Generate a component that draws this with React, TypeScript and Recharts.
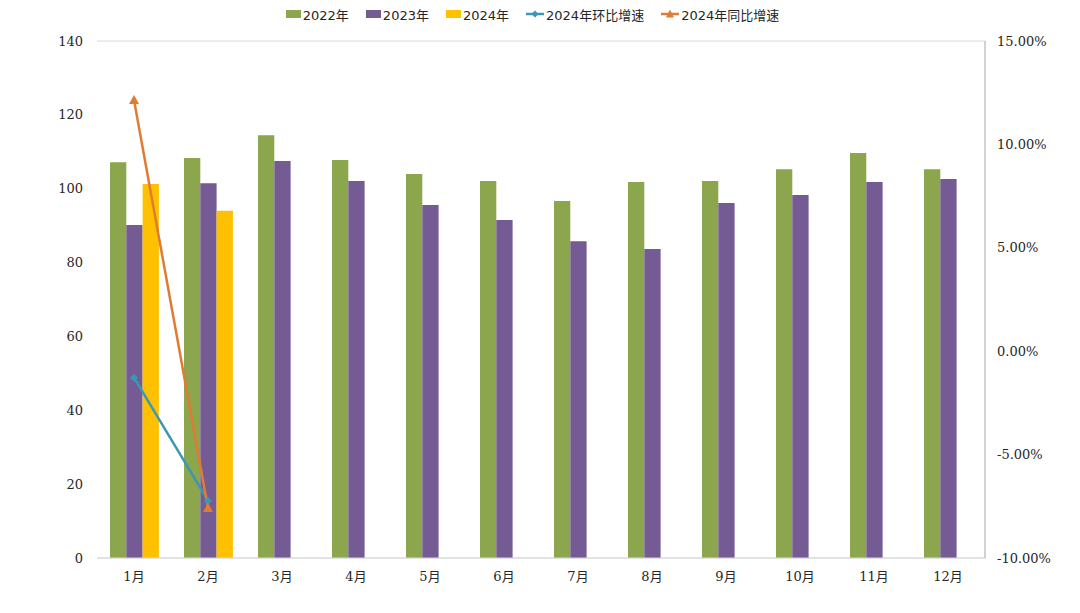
import { ComposedChart, Bar, Line, XAxis, YAxis, CartesianGrid, Legend } from 'recharts';

// monthly values (left axis) and 2024 growth rates in % (right axis)
const months = ['1月', '2月', '3月', '4月', '5月', '6月', '7月', '8月', '9月', '10月', '11月', '12月'];
const sales2022 = [107.2, 108.3, 114.5, 107.8, 104.0, 102.1, 96.7, 101.8, 102.1, 105.3, 109.7, 105.3];
const sales2023 = [90.2, 101.5, 107.5, 102.1, 95.6, 91.5, 85.8, 83.7, 96.1, 98.3, 101.8, 102.6];
const sales2024 = [101.3, 94.0];
const momGrowth2024 = [-1.28, -7.23];
const yoyGrowth2024 = [12.15, -7.58];

const leftTicks = [0, 20, 40, 60, 80, 100, 120, 140];
const rightTicks = [-10, -5, 0, 5, 10, 15];

const data = months.map((month, i) => ({
  month,
  y2022: sales2022[i],
  y2023: sales2023[i],
  y2024: sales2024[i] ?? null,
  mom: momGrowth2024[i] ?? null,
  yoy: yoyGrowth2024[i] ?? null,
}));

const GREEN = '#8ba64d';
const PURPLE = '#745b93';
const YELLOW = '#ffc000';
const BLUE = '#3a98b5';
const ORANGE = '#e07b33';

const axisFont = { fontSize: 13, fill: '#262626', fontFamily: "'DejaVu Serif', 'Noto Sans CJK SC', serif" };

const legendItems = [
  { name: '2022年', color: GREEN, kind: 'rect' },
  { name: '2023年', color: PURPLE, kind: 'rect' },
  { name: '2024年', color: YELLOW, kind: 'rect' },
  { name: '2024年环比增速', color: BLUE, kind: 'diamond' },
  { name: '2024年同比增速', color: ORANGE, kind: 'triangle' },
];

function ChartLegend() {
  return (
    <div
      style={{
        height: 28,
        display: 'flex',
        justifyContent: 'center',
        alignItems: 'center',
        gap: 17,
        paddingRight: 15,
        fontFamily: "'DejaVu Sans', 'Noto Sans CJK SC', sans-serif",
        fontSize: 13,
        color: '#262626',
      }}
    >
      {legendItems.map((item) => (
        <div key={item.name} style={{ display: 'flex', alignItems: 'center', gap: 2 }}>
          {item.kind === 'rect' ? (
            <svg width={15} height={8}>
              <rect width={15} height={8} fill={item.color} />
            </svg>
          ) : (
            <svg width={18} height={10}>
              <line x1={0} y1={5} x2={18} y2={5} stroke={item.color} strokeWidth={2.5} />
              {item.kind === 'diamond' ? (
                <path d="M9,1.5 L12.5,5 L9,8.5 L5.5,5 Z" fill={item.color} />
              ) : (
                <path d="M9,0.5 L13,8.5 L5,8.5 Z" fill={item.color} />
              )}
            </svg>
          )}
          <span>{item.name}</span>
        </div>
      ))}
    </div>
  );
}

const DiamondDot = (props: any) => {
  const { cx, cy, index } = props;
  if (cx == null || cy == null) return <g key={`dm-${index}`} />;
  return <path key={`dm-${index}`} d={`M${cx},${cy - 4} L${cx + 4},${cy} L${cx},${cy + 4} L${cx - 4},${cy} Z`} fill={BLUE} />;
};

const TriangleDot = (props: any) => {
  const { cx, cy, index } = props;
  if (cx == null || cy == null) return <g key={`tr-${index}`} />;
  return <path key={`tr-${index}`} d={`M${cx},${cy - 5} L${cx + 5},${cy + 4} L${cx - 5},${cy + 4} Z`} fill={ORANGE} />;
};

export default function App() {
  return (
    <div style={{ position: 'absolute', left: 0, top: 0, background: '#fff' }}>
      <ComposedChart
        width={1080}
        height={613}
        data={data}
        margin={{ top: 13, right: 0, bottom: 0, left: 0 }}
        barGap={0}
      >
        <CartesianGrid vertical={false} stroke="#d9d9d9" />
        <Legend verticalAlign="top" wrapperStyle={{ top: 0, left: 0, width: 1080 }} content={() => <ChartLegend />} />
        <XAxis
          dataKey="month"
          height={55}
          tickLine={false}
          tickSize={0}
          tickMargin={14}
          stroke="#d9d9d9"
          tick={axisFont}
        />
        <YAxis
          yAxisId="left"
          width={97}
          domain={[0, 140]}
          ticks={leftTicks}
          axisLine={false}
          tickLine={false}
          tickSize={0}
          tickMargin={14}
          tick={axisFont}
        />
        <YAxis
          yAxisId="right"
          orientation="right"
          width={95}
          domain={[-10, 15]}
          ticks={rightTicks}
          tickFormatter={(v: number) => `${v.toFixed(2)}%`}
          stroke="#a6a6a6"
          tickLine={false}
          tickSize={0}
          tickMargin={12}
          tick={axisFont}
        />
        <Bar yAxisId="left" dataKey="y2022" name="2022年" fill={GREEN} barSize={16.3} isAnimationActive={false} />
        <Bar yAxisId="left" dataKey="y2023" name="2023年" fill={PURPLE} barSize={16.3} isAnimationActive={false} />
        <Bar yAxisId="left" dataKey="y2024" name="2024年" fill={YELLOW} barSize={16.3} isAnimationActive={false} />
        <Line
          yAxisId="right"
          dataKey="mom"
          name="2024年环比增速"
          stroke={BLUE}
          strokeWidth={2.5}
          dot={DiamondDot}
          activeDot={false}
          isAnimationActive={false}
        />
        <Line
          yAxisId="right"
          dataKey="yoy"
          name="2024年同比增速"
          stroke={ORANGE}
          strokeWidth={2.5}
          dot={TriangleDot}
          activeDot={false}
          isAnimationActive={false}
        />
      </ComposedChart>
    </div>
  );
}
